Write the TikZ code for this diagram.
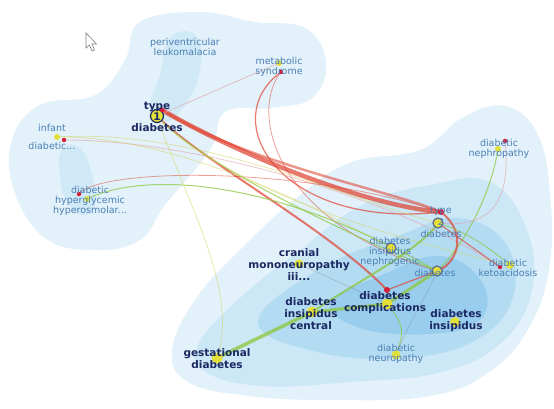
\documentclass[tikz,border=0pt]{standalone}
\usepackage{fontspec}
\setmainfont{DejaVu Sans}
\usepackage{tikz}
\usetikzlibrary{positioning}
\definecolor{blobA}{HTML}{E2F1FA}
\definecolor{blobB}{HTML}{CCE7F6}
\definecolor{blobC}{HTML}{B3DBF2}
\definecolor{blobD}{HTML}{98CDEE}
\definecolor{lblue}{HTML}{4A7FB4}
\definecolor{navy}{HTML}{1B2862}
\definecolor{redge}{HTML}{E0402E}
\definecolor{gedge}{HTML}{8CC83C}
\definecolor{yedge}{HTML}{D6D66A}
\definecolor{pedge}{HTML}{E4A0A4}
\definecolor{nodefill}{HTML}{E4E03A}
\definecolor{dotred}{HTML}{D61E3A}

\begin{document}
\begin{tikzpicture}[x=1pt,y=-1pt,
    vert/.style={circle,fill=nodefill,draw=#1,line width=1.2pt,inner sep=0pt,minimum size=10pt},
    ydot/.style={circle,fill=nodefill,inner sep=0pt,minimum size=6pt},
    rdot/.style={circle,fill=dotred,inner sep=0pt,minimum size=4.5pt},
    lbl/.style={text=lblue,align=center,inner sep=0pt,font=\fontsize{9.5}{10}\selectfont},
    blbl/.style={text=navy,align=center,inner sep=0pt,font=\bfseries\fontsize{10.5}{12}\selectfont},
    rededge/.style={draw=redge,opacity=0.7},
    greenedge/.style={draw=gedge,opacity=0.75},
    yedge/.style={draw=yedge,opacity=0.55,line width=0.8pt},
    pinkedge/.style={draw=pedge,opacity=0.6,line width=0.8pt}]
    \useasboundingbox[fill=white] (0,0) rectangle (554,409);

    % positions
    \coordinate (t1) at (157,116);
    \coordinate (t1r) at (162,110);
    \coordinate (pvl) at (185,47);
    \coordinate (ms) at (279,63);
    \coordinate (msr) at (281,72);
    \coordinate (inf) at (57,137);
    \coordinate (infr) at (64,140);
    \coordinate (hhs) at (87,199);
    \coordinate (hhsr) at (79,194);
    \coordinate (t2) at (438,223);
    \coordinate (t2r) at (441,212);
    \coordinate (dn) at (498,149);
    \coordinate (dnr) at (505,141);
    \coordinate (din) at (391,248);
    \coordinate (dia) at (437,271);
    \coordinate (dk) at (510,265);
    \coordinate (dkr) at (500,267);
    \coordinate (cmn) at (299,264);
    \coordinate (dic) at (312,312);
    \coordinate (dc) at (387,304);
    \coordinate (dcr) at (387,290);
    \coordinate (di) at (455,322);
    \coordinate (dneu) at (396,355);
    \coordinate (gd) at (217,358);

    % clusters
    \fill[blobA] plot[smooth cycle,tension=0.7] coordinates {(12,140) (40,105) (95,95) (125,60) (140,22) (200,12) (255,22) (305,28) (326,62) (312,98) (270,108) (225,112) (210,150) (165,205) (140,240) (95,250) (45,238) (14,190)};
    \fill[blobB,opacity=0.8] plot[smooth cycle,tension=0.8] coordinates {(170,38) (196,36) (200,70) (185,105) (165,122) (150,108) (160,75)};
    \fill[blobB,opacity=0.8] plot[smooth cycle,tension=0.8] coordinates {(62,150) (80,148) (92,175) (95,205) (82,215) (66,200) (60,175)};
    \fill[blobA] plot[smooth cycle,tension=0.7] coordinates {(172,352) (195,300) (242,248) (300,195) (352,162) (420,150) (462,118) (505,106) (538,135) (550,195) (550,262) (532,322) (492,370) (430,396) (330,400) (250,396) (190,383)};
    \fill[blobB] plot[smooth cycle,tension=0.7] coordinates {(198,345) (240,298) (300,250) (362,205) (430,185) (490,182) (526,228) (532,290) (502,342) (442,372) (350,382) (262,386) (206,372)};
    \fill[blobC] plot[smooth cycle,tension=0.7] coordinates {(258,322) (318,270) (398,236) (458,218) (506,244) (512,300) (472,342) (402,358) (318,352)};
    \fill[blobD] plot[smooth cycle,tension=0.7] coordinates {(330,302) (380,276) (440,256) (482,282) (480,320) (430,334) (360,328)};

    % edges
    \draw[rededge,line width=4.5pt] (t1r) .. controls (230,150) and (360,205) .. (t2r);
    \draw[rededge,line width=2.5pt,opacity=0.55] (t1r) .. controls (250,165) and (390,190) .. (t2r);
    \draw[rededge,line width=2pt] (t1) .. controls (200,160) and (330,230) .. (dcr);
    \draw[rededge,line width=1.2pt] (msr) .. controls (215,120) and (280,230) .. (t2r);
    \draw[rededge,line width=0.8pt,opacity=0.5] (msr) .. controls (250,110) and (270,220) .. (dia);
    \draw[pinkedge] (t1) -- (ms);
    \draw[pinkedge] (infr) .. controls (200,140) and (400,200) .. (dkr);
    \draw[yedge] (inf) .. controls (200,128) and (350,200) .. (t2);
    \draw[yedge] (inf) .. controls (180,135) and (330,215) .. (din);
    \draw[rededge,line width=0.8pt,opacity=0.5] (hhsr) .. controls (100,168) and (300,165) .. (t2r);
    \draw[greenedge,line width=1pt] (hhs) .. controls (135,175) and (260,170) .. (dia);
    \draw[greenedge,line width=1pt] (t1) .. controls (200,165) and (360,240) .. (dia);
    \draw[yedge] (t1) .. controls (205,170) and (330,225) .. (dk);
    \draw[yedge] (t1) .. controls (185,200) and (240,290) .. (gd);
    \draw[greenedge,line width=3.5pt] (gd) -- (dic);
    \draw[greenedge,line width=3pt] (dic) -- (dc);
    \draw[greenedge,line width=3pt] (dc) -- (dia);
    \draw[greenedge,line width=2pt] (dic) .. controls (360,280) and (420,250) .. (t2);
    \draw[greenedge,line width=1pt] (dia) .. controls (460,250) and (490,200) .. (dn);
    \draw[pinkedge] (dnr) .. controls (510,190) and (500,230) .. (t2);
    \draw[rededge,line width=2pt] (t2r) .. controls (470,235) and (455,265) .. (dia);
    \draw[rededge,line width=1pt] (dkr) -- (t2);
    \draw[greenedge,line width=0.8pt] (dk) .. controls (480,240) and (460,230) .. (t2);
    \draw[rededge,line width=1.2pt] (dcr) -- (dia);
    \draw[greenedge,line width=0.8pt] (dc) .. controls (410,330) and (400,340) .. (dneu);
    \draw[draw=gray,opacity=0.4,line width=0.6pt] (cmn) -- (dc);
    \draw[draw=gray,opacity=0.4,line width=0.6pt] (dneu) .. controls (410,320) and (430,290) .. (dia);

    % nodes
    \node[vert=navy,minimum size=13pt] (t1n) at (t1) {};
    \node[rdot] (t1d) at (t1r) {};
    \node[ydot] (msn) at (ms) {};
    \node[rdot] (msd) at (msr) {};
    \node[ydot] (infn) at (inf) {};
    \node[rdot] (infd) at (infr) {};
    \node[rdot] (hhsd) at (hhsr) {};
    \node[ydot] (hhsn) at (hhs) {};
    \node[vert=navy!70] (t2n) at (t2) {};
    \node[rdot,minimum size=6pt] (t2d) at (t2r) {};
    \node[ydot] (dnn) at (dn) {};
    \node[rdot] (dnd) at (dnr) {};
    \node[vert=navy!70] (dinn) at (din) {};
    \node[vert=navy!70] (dian) at (dia) {};
    \node[ydot,minimum size=8pt] (dkn) at (dk) {};
    \node[rdot] (dkd) at (dkr) {};
    \node[ydot,minimum size=9pt] (cmnn) at (cmn) {};
    \node[ydot,minimum size=11pt] (dicn) at (dic) {};
    \node[ydot,minimum size=11pt] (dcn) at (dc) {};
    \node[rdot,minimum size=6pt] (dcd) at (dcr) {};
    \node[ydot,minimum size=10pt] (din2) at (di) {};
    \node[ydot,minimum size=9pt] (dneun) at (dneu) {};
    \node[ydot,minimum size=11pt] (gdn) at (gd) {};

    % labels
    \node[blbl,font=\bfseries\fontsize{10.5}{11}\selectfont] (t1l) at (157,117) {type\\1\\diabetes};
    \node[lbl] (pvll) at (pvl) {periventricular\\leukomalacia};
    \node[lbl] (msl) at (279,67) {metabolic\\syndrome};
    \node[lbl] (infl) at (52,137) {infant\\[-1pt]\\[-1pt]diabetic...};
    \node[lbl] (hhsl) at (90,201) {diabetic\\hyperglycemic\\hyperosmolar...};
    \node[lbl,font=\fontsize{9.5}{12}\selectfont] (t2l) at (441,222) {type\\2\\diabetes};
    \node[lbl] (dnl) at (499,149) {diabetic\\nephropathy};
    \node[lbl] (dinl) at (390,252) {diabetes\\insipidus\\nephrogenic};
    \node[lbl] (dial) at (435,273) {diabetes};
    \node[lbl] (dkl) at (508,268) {diabetic\\ketoacidosis};
    \node[blbl] (cmnl) at (299,265) {cranial\\mononeuropathy\\iii...};
    \node[blbl] (dicl) at (311,314) {diabetes\\insipidus\\central};
    \node[blbl] (dcl) at (385,303) {diabetes\\complications};
    \node[blbl] (dil) at (456,321) {diabetes\\insipidus};
    \node[lbl] (dneul) at (396,354) {diabetic\\neuropathy};
    \node[blbl] (gdl) at (217,359) {gestational\\diabetes};

    % pointer
    \draw[gray,fill=white,line width=0.6pt] (86,33) -- (86,48) -- (89.5,45) -- (92,51) -- (94.5,50) -- (92,44) -- (96.5,44) -- cycle;
\end{tikzpicture}
\end{document}
